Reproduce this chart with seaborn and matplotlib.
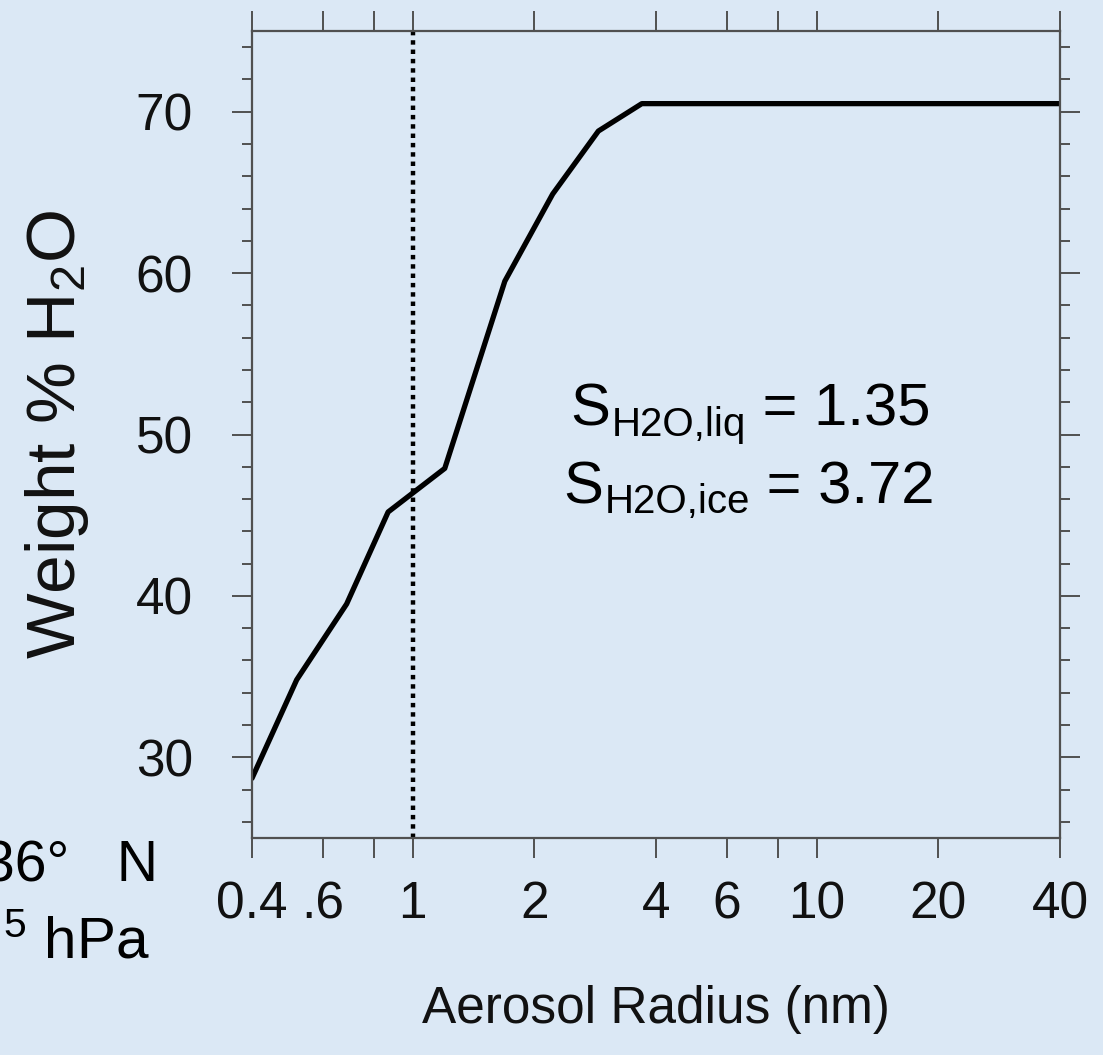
import numpy as np
import pandas as pd
import matplotlib
matplotlib.use("Agg")
import matplotlib.pyplot as plt
import matplotlib.ticker as mticker
import seaborn as sns

# ---- data ----
radius_nm = [0.40, 0.516, 0.686, 0.869, 1.20, 1.69, 2.22, 2.88, 3.69, 40.0]
weight_pct_h2o = [28.7, 34.8, 39.5, 45.2, 47.9, 59.5, 64.9, 68.8, 70.5, 70.5]
marker_radius = 1.0
x_ticks = [0.4, 0.6, 0.8, 1, 2, 4, 6, 8, 10, 20, 40]
x_ticklabels = ["0.4", ".6", "", "1", "2", "4", "6", "", "10", "20", "40"]
y_ticks = [30, 40, 50, 60, 70]
annot_main = ["S", "S"]
annot_sub = ["H2O,liq", "H2O,ice"]
annot_val = [" = 1.35", " = 3.72"]
corner_lines = ["36°   N", r"$^{5}$ hPa"]

bg = "#dbe8f5"
sns.set_theme(style="ticks")
plt.rcParams["font.family"] = ["Liberation Sans", "DejaVu Sans"]
plt.rcParams["mathtext.fontset"] = "custom"
plt.rcParams["mathtext.rm"] = "Liberation Sans"
plt.rcParams["mathtext.it"] = "Liberation Sans:italic"
plt.rcParams["mathtext.bf"] = "Liberation Sans:bold"

fig = plt.figure(figsize=(11.03, 10.55), dpi=100, facecolor=bg)
ax = fig.add_axes([252 / 1103, 1 - 838 / 1055, (1060 - 252) / 1103, (838 - 31) / 1055])
ax.set_facecolor(bg)

df = pd.DataFrame({"radius": radius_nm, "weight": weight_pct_h2o})
sns.lineplot(data=df, x="radius", y="weight", ax=ax, color="black", lw=3.8,
             sort=False, estimator=None)
ax.axvline(marker_radius, color="black", lw=3.2, linestyle=(0, (1, 1.1)),
           dash_capstyle="butt")

ax.set_xscale("log")
ax.set_xlim(0.4, 40)
ax.set_ylim(25, 75)
ax.xaxis.set_major_locator(mticker.FixedLocator(x_ticks))
ax.xaxis.set_major_formatter(mticker.FixedFormatter(x_ticklabels))
ax.xaxis.set_minor_locator(mticker.NullLocator())
ax.yaxis.set_major_locator(mticker.FixedLocator(y_ticks))
ax.yaxis.set_minor_locator(mticker.MultipleLocator(2))

for s in ax.spines.values():
    s.set_color("#505050")
    s.set_linewidth(1.6)

ax.tick_params(axis="both", which="both", direction="out", color="#505050",
               width=1.4, top=True, right=True, labelsize=37, labelcolor="#111111")
ax.tick_params(axis="both", which="major", length=14.5)
ax.tick_params(axis="both", which="minor", length=7)
ax.tick_params(axis="x", which="major", pad=16)
ax.tick_params(axis="y", which="major", pad=28)

ax.set_xlabel("Aerosol Radius (nm)", fontsize=37, labelpad=40, color="#111111")
ax.set_ylabel(r"Weight % H$_2$O", fontsize=50, labelpad=32, color="#111111")

# annotation: large "S", small subscript on (almost) the same baseline, value
starts = [((570 - 252) / 808, (838 - 426) / 807), ((563 - 252) / 808, (838 - 503) / 807)]
for (x0, y0), m, sub, val in zip(starts, annot_main, annot_sub, annot_val):
    t1 = ax.text(x0, y0, m, transform=ax.transAxes, ha="left", va="baseline",
                 fontsize=43, color="black")
    t2 = ax.annotate(sub, xy=(1, 0), xycoords=t1, xytext=(1, -4.5),
                     textcoords="offset points", ha="left", va="bottom",
                     fontsize=29, color="black")
    ax.annotate(val, xy=(1, 0), xycoords=t2, xytext=(0, 4.5),
                textcoords="offset points", ha="left", va="bottom",
                fontsize=43, color="black")

fig.text(158 / 1103, 1 - 882 / 1055, corner_lines[0], ha="right", va="baseline",
         fontsize=41, color="black")
fig.text(150 / 1103, 1 - 957 / 1055, corner_lines[1], ha="right", va="baseline",
         fontsize=42, color="black")

fig.savefig("out.png", dpi=100, facecolor=bg)
